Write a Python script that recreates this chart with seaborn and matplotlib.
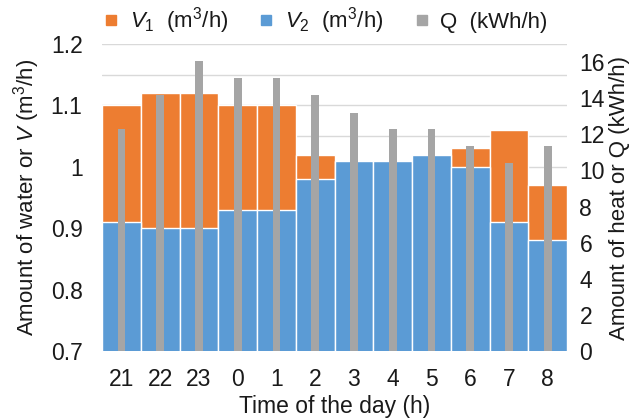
import matplotlib
matplotlib.use("Agg")
import matplotlib.pyplot as plt
from matplotlib.lines import Line2D
from matplotlib.ticker import MultipleLocator, FixedLocator, FixedFormatter
import seaborn as sns
import pandas as pd

# Hourly data, night period
hours = ["21", "22", "23", "0", "1", "2", "3", "4", "5", "6", "7", "8"]
v2 = [0.91, 0.90, 0.90, 0.93, 0.93, 0.98, 1.01, 1.01, 1.02, 1.00, 0.91, 0.88]      # m3/h
v_total = [1.10, 1.12, 1.12, 1.10, 1.10, 1.02, 1.01, 1.01, 1.02, 1.03, 1.06, 0.97]  # V1 + V2, m3/h
q = [12.3, 14.2, 16.05, 15.1, 15.1, 14.2, 13.2, 12.3, 12.3, 11.35, 10.4, 11.35]    # kWh/h

left_ticks = [0.7, 0.8, 0.9, 1.0, 1.1, 1.2]
left_labels = ["0.7", "0.8", "0.9", "1", "1.1", "1.2"]
right_ticks = [0, 2, 4, 6, 8, 10, 12, 14, 16]

df = pd.DataFrame({"hour": hours, "v2": v2, "total": v_total, "q": q})

sns.set_theme(style="white")
plt.rcParams["font.family"] = ["Liberation Sans", "DejaVu Sans"]
plt.rcParams["mathtext.fontset"] = "custom"
plt.rcParams["mathtext.rm"] = "Liberation Sans"
plt.rcParams["mathtext.it"] = "Liberation Sans:italic"
plt.rcParams["mathtext.bf"] = "Liberation Sans:bold"

orange = "#ED7D31"
blue = "#5B9BD5"
grey = "#A5A5A5"
ink = "#1a1a1a"

fig = plt.figure(figsize=(6.34, 4.18), dpi=100)
ax = fig.add_axes([102 / 634, 1 - 351 / 418, (567 - 102) / 634, (351 - 44) / 418])

# Stacked water flows: total (orange) underneath, V2 (blue) on top of it
sns.barplot(data=df, x="hour", y="total", color=orange, width=1.0,
            edgecolor="white", linewidth=1.0, saturation=1, ax=ax, zorder=2)
sns.barplot(data=df, x="hour", y="v2", color=blue, width=1.0,
            edgecolor="white", linewidth=1.0, saturation=1, ax=ax, zorder=3)

ax.set_xlim(-0.5, len(hours) - 0.5)
ax.set_ylim(0.7, 1.2)
ax.yaxis.set_major_locator(FixedLocator(left_ticks))
ax.yaxis.set_major_formatter(FixedFormatter(left_labels))
ax.yaxis.set_minor_locator(MultipleLocator(0.05))
ax.grid(axis="y", which="both", color="#D9D9D9", linewidth=1.0)
ax.grid(axis="x", visible=False)
ax.set_axisbelow(True)
for s in ax.spines.values():
    s.set_visible(False)
ax.tick_params(axis="both", which="both", length=0, labelsize=16.5, colors=ink)
ax.tick_params(axis="y", pad=14)
ax.tick_params(axis="x", pad=12)
ax.set_xlabel("Time of the day (h)", fontsize=16.5, color=ink, labelpad=3)
ax.set_ylabel(r"Amount of water or $\mathit{V}$ (m$^3$/h)", fontsize=16,
              color=ink, labelpad=6)

# Heat on the secondary axis, thin grey bars
ax2 = ax.twinx()
sns.barplot(data=df, x="hour", y="q", color=grey, width=0.2, saturation=1,
            linewidth=0, ax=ax2, zorder=4)
ax2.set_ylim(0, 17)
ax2.set_yticks(right_ticks)
ax2.set_xlim(-0.5, len(hours) - 0.5)
for s in ax2.spines.values():
    s.set_visible(False)
ax2.tick_params(axis="y", length=0, labelsize=16.5, colors=ink, pad=9)
ax2.set_xlabel("")
ax2.set_ylabel("Amount of heat or Q (kWh/h)", fontsize=16, color=ink, labelpad=3)
ax2.grid(False)

handles = [
    Line2D([], [], marker="s", linestyle="none", color=orange, markersize=7),
    Line2D([], [], marker="s", linestyle="none", color=blue, markersize=7),
    Line2D([], [], marker="s", linestyle="none", color=grey, markersize=7),
]
labels = [r"$\mathit{V}_{\mathit{1}}$  (m$^3$/h)",
          r"$\mathit{V}_{\mathit{2}}$  (m$^3$/h)",
          "Q  (kWh/h)"]
fig.legend(handles, labels, loc="center", bbox_to_anchor=(0.511, 1 - 21 / 418),
           ncol=3, frameon=False, fontsize=16, handletextpad=0.35,
           columnspacing=1.2, handlelength=1.0, labelcolor=ink)

fig.savefig("out.png", dpi=100)
